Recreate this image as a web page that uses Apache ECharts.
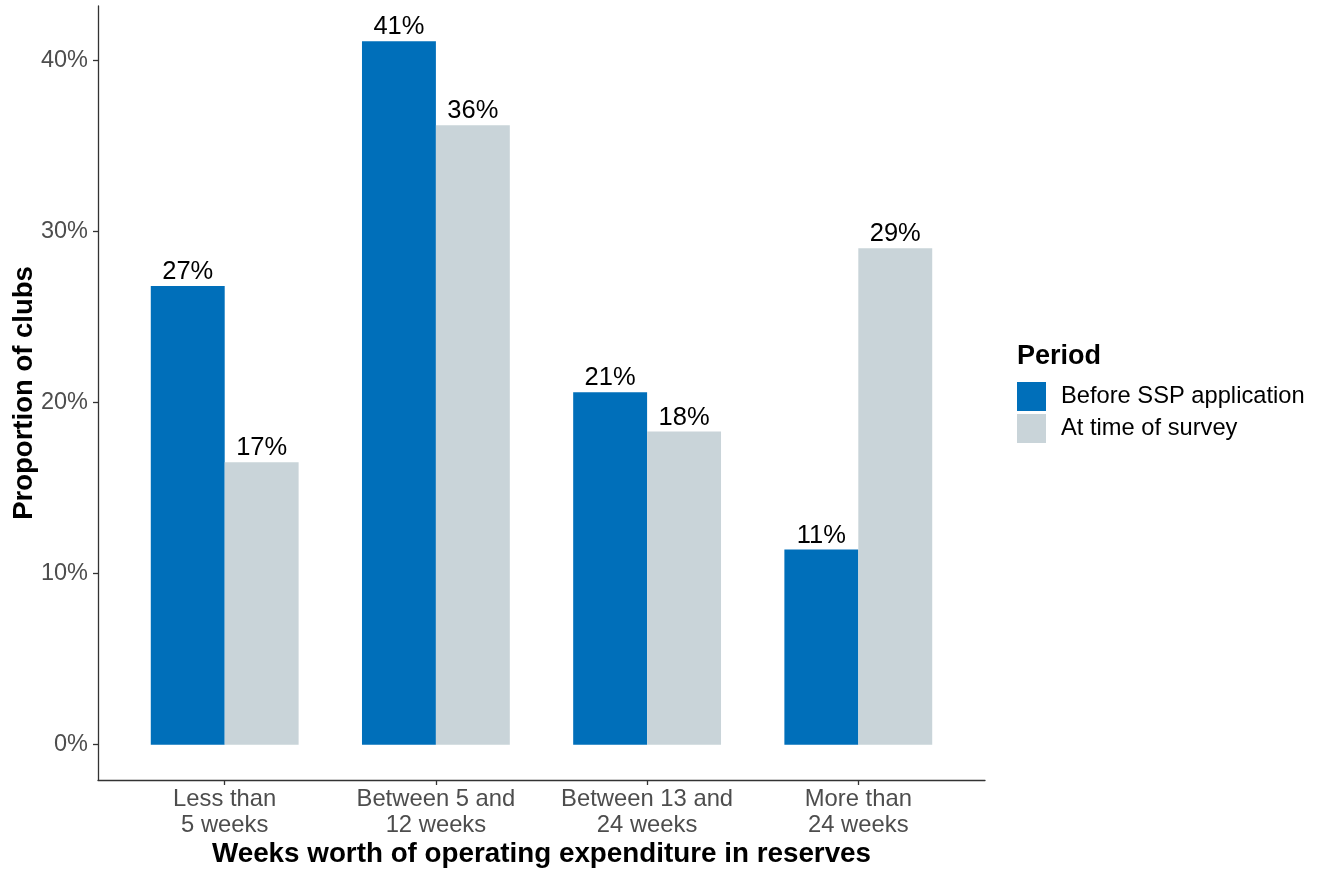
<!DOCTYPE html>
<html>
<head>
<meta charset="utf-8">
<script src="https://cdn.jsdelivr.net/npm/echarts@6/dist/echarts.min.js"></script>
<style>
  html, body { margin: 0; padding: 0; background: #fff; }
  #chart { width: 1322px; height: 870px; }
</style>
</head>
<body>
<div id="chart"></div>
<script>
// Share of clubs by weeks of operating expenditure held in reserves
const categories = ['Less than\n5 weeks', 'Between 5 and\n12 weeks', 'Between 13 and\n24 weeks', 'More than\n24 weeks'];
const seriesNames = ['Before SSP application', 'At time of survey'];
const beforeSSP = [26.8, 41.1, 20.6, 11.4];
const atSurvey = [16.5, 36.2, 18.3, 29.0];
const yTicks = [0, 10, 20, 30, 40];

const FONT = '"Liberation Sans", Arial, Helvetica, sans-serif';
const BLUE = '#006fba';
const GREY = '#c9d4d9';
// value range padded 5% on both ends
const Y_MIN = -2.06;
const Y_MAX = 43.16;

const chart = echarts.init(document.getElementById('chart'), null, { renderer: 'canvas' });

const valueLabel = {
  show: true,
  position: 'top',
  distance: 1,
  color: '#000',
  fontSize: 25.5,
  fontFamily: FONT,
  formatter: p => Math.round(p.value) + '%'
};

chart.setOption({
  animation: false,
  backgroundColor: '#fff',
  textStyle: { fontFamily: FONT },
  title: {
    text: 'Period',
    left: 1017,
    top: 343,
    padding: 0,
    textStyle: { fontFamily: FONT, fontSize: 27, fontWeight: 'bold', color: '#000' }
  },
  legend: {
    data: seriesNames,
    orient: 'vertical',
    left: 1017,
    top: 382,
    padding: 0,
    itemWidth: 29,
    itemHeight: 29,
    itemGap: 3,
    icon: 'rect',
    textStyle: { fontFamily: FONT, fontSize: 23.7, color: '#000', padding: [0, 0, 0, 10] }
  },
  grid: [
    // outer frame carrying the axis lines
    { left: 98, right: 337, top: 6, bottom: 90, outerBoundsMode: 'none', containLabel: false },
    // inner band area for the bars
    { left: 119.1, right: 358.1, top: 6, bottom: 90, outerBoundsMode: 'none', containLabel: false }
  ],
  xAxis: [
    {
      gridIndex: 0,
      type: 'value',
      min: 0,
      max: 1,
      axisLine: { show: true, onZero: false, lineStyle: { color: '#333', width: 1.3 } },
      axisTick: { show: false },
      axisLabel: { show: false },
      splitLine: { show: false },
      name: 'Weeks worth of operating expenditure in reserves',
      nameLocation: 'middle',
      nameGap: 60,
      nameMoveOverlap: false,
      nameTextStyle: { fontFamily: FONT, fontSize: 27.8, fontWeight: 'bold', color: '#000' }
    },
    {
      gridIndex: 1,
      type: 'category',
      data: categories,
      axisLine: { show: false, onZero: false },
      axisTick: { show: true, interval: 0, alignWithLabel: true, length: 5, lineStyle: { color: '#333', width: 1.3 } },
      axisLabel: { interval: 0, fontFamily: FONT, fontSize: 23.8, color: '#4d4d4d', lineHeight: 26, margin: 6 },
      splitLine: { show: false }
    }
  ],
  yAxis: [
    {
      gridIndex: 0,
      type: 'value',
      min: Y_MIN,
      max: Y_MAX,
      axisLine: { show: true, onZero: false, lineStyle: { color: '#333', width: 1.3 } },
      axisTick: { show: true, length: 5, customValues: yTicks, lineStyle: { color: '#333', width: 1.3 } },
      axisLabel: { customValues: yTicks, formatter: '{value}%', fontFamily: FONT, fontSize: 23.5, color: '#4d4d4d', margin: 10 },
      splitLine: { show: false },
      name: 'Proportion of clubs',
      nameLocation: 'middle',
      nameRotate: 90,
      nameGap: 60,
      nameMoveOverlap: false,
      nameTextStyle: { fontFamily: FONT, fontSize: 27.5, fontWeight: 'bold', color: '#000' }
    },
    {
      gridIndex: 1,
      type: 'value',
      min: Y_MIN,
      max: Y_MAX,
      show: false
    }
  ],
  series: [
    {
      name: seriesNames[0],
      type: 'bar',
      xAxisIndex: 1,
      yAxisIndex: 1,
      data: beforeSSP,
      barGap: '0%',
      barCategoryGap: '30%',
      itemStyle: { color: BLUE },
      label: valueLabel
    },
    {
      name: seriesNames[1],
      type: 'bar',
      xAxisIndex: 1,
      yAxisIndex: 1,
      data: atSurvey,
      barGap: '0%',
      barCategoryGap: '30%',
      itemStyle: { color: GREY },
      label: valueLabel
    }
  ]
});
</script>
</body>
</html>
